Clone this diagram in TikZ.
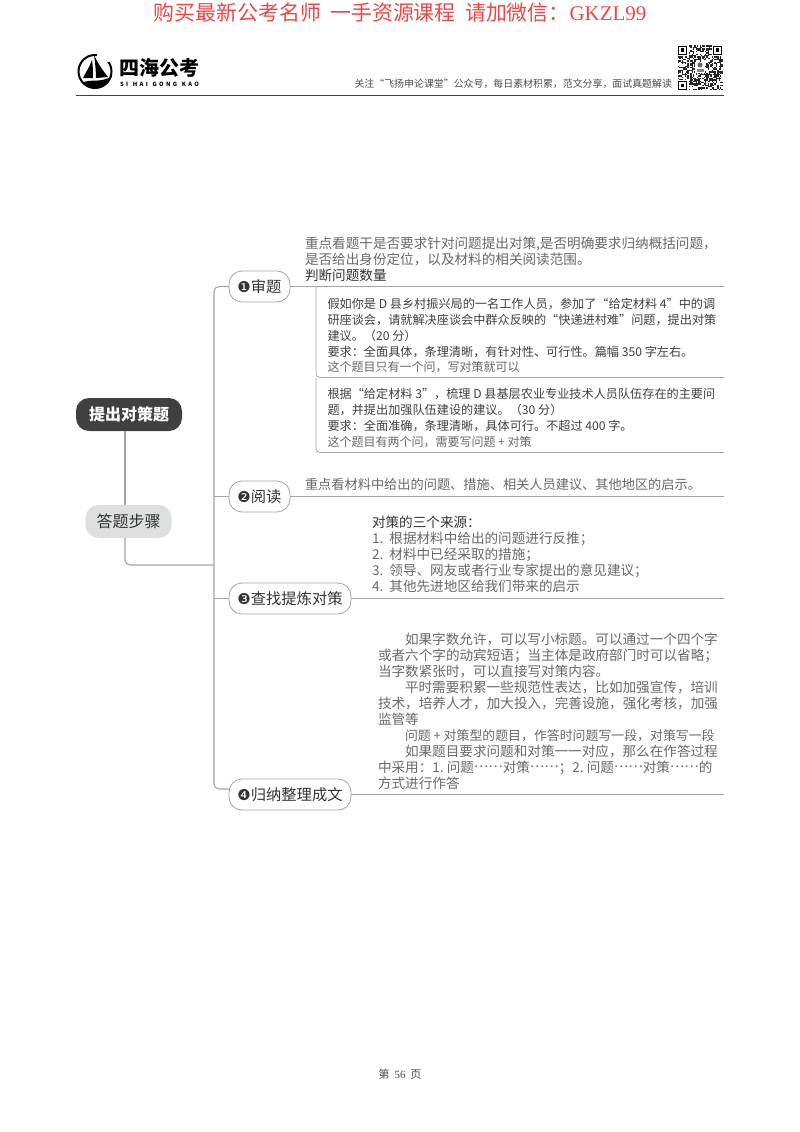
\documentclass[tikz,border=0pt]{standalone}
\usepackage{fontspec}
\setmainfont{Noto Sans CJK SC}
\newfontfamily\symfont{DejaVu Sans}
\newfontfamily\footfont{Liberation Serif}
\usetikzlibrary{positioning}
\definecolor{linegray}{RGB}{165, 165, 165}
\definecolor{rootgray}{RGB}{64, 64, 64}
\definecolor{stepgray}{RGB}{222, 223, 224}
\definecolor{bodygray}{RGB}{105, 105, 105}
\definecolor{headred}{RGB}{240, 70, 70}
\newcommand{\pxfont}[2]{\fontsize{#1}{#2}\selectfont}
\newcommand{\dotsfull}{\raisebox{.3em}{……}}

\begin{document}
\begin{tikzpicture}[
    x=1pt, y=-1pt,
    every node/.style={inner sep=0pt, outer sep=0pt},
    rootbox/.style={rectangle, rounded corners=13pt, fill=rootgray, text=white, font=\pxfont{16}{18}\bfseries,
                    minimum width=106pt, minimum height=33pt},
    stagebox/.style={rectangle, rounded corners=13pt, fill=stepgray, text=black!80, font=\pxfont{16}{18},
                     minimum width=86pt, minimum height=33pt},
    topicbox/.style={rectangle, rounded corners=13pt, draw=linegray, fill=white, text=black!80, font=\pxfont{15.3}{18},
                     minimum height=31pt, thick},
    conn/.style={draw=linegray, line width=1.1pt, rounded corners=5pt},
    underline/.style={draw=linegray, line width=0.8pt, rounded corners=4pt},
    bodytext/.style={anchor=north west, align=left, text=bodygray, font=\pxfont{13.6}{16}},
    asktext/.style={anchor=north west, align=left, text=black!75, font=\pxfont{12.15}{16}},
    handtext/.style={anchor=north west, text=bodygray, font=\pxfont{12}{13}}
]
    \useasboundingbox[fill=white] (0,0) rectangle (800,1132);

    % page head
    \node[text=headred, font=\pxfont{20.9}{24}] (headtext) at (400,13)
        {购买最新公考名师\ \ 一手资源课程\ \ 请加微信^^^^ff1a{\footfont GKZL99}};
    \node[anchor=east, text=black!70, font=\pxfont{9.92}{12}] (follow) at (672,84)
        {关注“飞扬申论课堂”公众号^^^^ff0c每日素材积累^^^^ff0c范文分享^^^^ff0c面试真题解读};
    \coordinate (ruleL) at (76,95.5);
    \coordinate (ruleR) at (724,95.5);
    \draw[black!75, line width=1pt] (ruleL) -- (ruleR);

    % logo
    \draw[black, line width=2pt] (95,71.5) circle (16.5pt);
    \fill[white] (97,50) rectangle (113,62);
    \fill[black] (94,55) .. controls (98,64) and (104,72) .. (108,77) -- (96,78) .. controls (96,70) and (95,62) .. (94,55);
    \fill[black] (92,60) .. controls (90,66) and (86,72) .. (83,78) -- (93,78) .. controls (93,72) and (93,66) .. (92,60);
    \fill[black] (82,83) .. controls (90,78) and (100,84) .. (112,76) .. controls (108,88) and (92,92) .. (82,83);
    \node[anchor=west, text=black, font=\pxfont{20}{22}\bfseries] (logoname) at (119,68) {四海公考};
    \node[anchor=west, text=black, font=\pxfont{5.8}{7}\bfseries] (logolatin) at (120,84)
        {\makebox[79pt][s]{S\hfil I\hfil\hfil H\hfil A\hfil I\hfil\hfil G\hfil O\hfil N\hfil G\hfil\hfil K\hfil A\hfil O}};

    % qr code
    \pgfmathsetseed{56}
    \foreach \i in {0,...,32} {
        \foreach \j in {0,...,32} {
            \pgfmathparse{rnd<0.5 ? 1 : 0}
            \ifnum\pgfmathresult=1
                \fill[black!85] (678+\i*1.35,45.5+\j*1.35) rectangle ++(1.35,1.35);
            \fi
        }
    }
    \foreach \qx/\qy in {678/45.5, 713/45.5, 678/80.5} {
        \fill[white] (\qx-1,\qy-1) rectangle ++(11.5,11.5);
        \draw[black, line width=1.3pt] (\qx+.7,\qy+.7) rectangle ++(8,8);
        \fill[black] (\qx+3,\qy+3) rectangle ++(3.4,3.4);
    }
    \fill[white] (695,62) rectangle (705,73);
    \fill[black!60] (700,65) circle (2.5pt);
    \fill[blue!40!black!50] (696.5,72.5) rectangle (703.5,69);

    % main nodes
    \node[rootbox] (root) at (129,414.5) {提出对策题};
    \node[stagebox] (stage) at (128.5,521.5) {答题步骤};
    \node[topicbox, minimum width=61pt] (t1) at (259.5,286.5) {{\symfont\pxfont{15}{16}❶}审题};
    \node[topicbox, minimum width=61pt] (t2) at (259.5,496.5) {{\symfont\pxfont{15}{16}❷}阅读};
    \node[topicbox, minimum width=122pt] (t3) at (290,598.5) {{\symfont\pxfont{15}{16}❸}查找提炼对策};
    \node[topicbox, minimum width=122pt] (t4) at (290,794.5) {{\symfont\pxfont{15}{16}❹}归纳整理成文};

    % right ends of the rules
    \coordinate (e1) at (724,286.5);
    \coordinate (e2) at (724,496.5);
    \coordinate (e3) at (724,598.5);
    \coordinate (e4) at (724,794.5);
    \coordinate (ask1) at (724,377.5);
    \coordinate (ask2) at (724,452.5);
    \coordinate (stem) at (125,470);
    \coordinate (joint) at (214,565);

    \draw[conn] (stem |- root.south) -- (stem |- stage.north);
    \draw[conn] (stem |- stage.south) |- (joint);
    \draw[conn] (t1.west) -| (joint);
    \draw[conn] (joint) -- (214,789) -- (t4.west |- 0,789);
    \draw[conn] (t2.west) -- (214,496.5);
    \draw[conn] (t3.west) -- (214,598.5);

    \draw[underline] (t1.east) -- (e1);
    \draw[underline] (t2.east) -- (e2);
    \draw[underline] (t3.east) -- (e3);
    \draw[underline] (t4.east) -- (e4);
    \draw[underline] (316,286.5) |- (ask1);
    \draw[underline] (316,377.5) |- (ask2);

    % texts
    \node[bodytext] (read1) at (305,237)
        {重点看题干是否要求针对问题提出对策,是否明确要求归纳概括问题^^^^ff0c\\
         是否给出身份定位^^^^ff0c以及材料的相关阅读范围。\\
         \textcolor{black!80}{判断问题数量}};
    \node[asktext] (ask1text) at (327.5,298)
        {假如你是 D 县乡村振兴局的一名工作人员^^^^ff0c参加了“给定材料 4”中的调\\
         研座谈会^^^^ff0c请就解决座谈会中群众反映的“快递进村难”问题^^^^ff0c提出对策\\
         建议。^^^^ff0820 分^^^^ff09\\
         要求^^^^ff1a全面具体^^^^ff0c条理清晰^^^^ff0c有针对性、可行性。篇幅 350 字左右。};
    \node[handtext] (hand1) at (327.5,361) {这个题目只有一个问^^^^ff0c写对策就可以};
    \node[asktext] (ask2text) at (327.5,388.5)
        {根据“给定材料 3”^^^^ff0c梳理 D 县基层农业专业技术人员队伍存在的主要问\\
         题^^^^ff0c并提出加强队伍建设的建议。^^^^ff0830 分^^^^ff09\\
         要求^^^^ff1a全面准确^^^^ff0c条理清晰^^^^ff0c具体可行。不超过 400 字。};
    \node[handtext] (hand2) at (327.5,436) {这个题目有两个问^^^^ff0c需要写问题 + 对策};
    \node[bodytext, font=\pxfont{13.2}{16}] (read2) at (305,478) {重点看材料中给出的问题、措施、相关人员建议、其他地区的启示。};
    \node[bodytext] (source) at (372,516)
        {\textcolor{black!80}{对策的三个来源^^^^ff1a}\\
         1.\ \ 根据材料中给出的问题进行反推^^^^ff1b\\
         2.\ \ 材料中已经采取的措施^^^^ff1b\\
         3.\ \ 领导、网友或者行业专家提出的意见建议^^^^ff1b\\
         4.\ \ 其他先进地区给我们带来的启示};
    \node[bodytext] (write) at (378,632.5)
        {\hspace*{27pt}如果字数允许^^^^ff0c可以写小标题。可以通过一个四个字\\
         或者六个字的动宾短语^^^^ff1b当主体是政府部门时可以省略^^^^ff1b\\
         当字数紧张时^^^^ff0c可以直接写对策内容。\\
         \hspace*{27pt}平时需要积累一些规范性表达^^^^ff0c比如加强宣传^^^^ff0c培训\\
         技术^^^^ff0c培养人才^^^^ff0c加大投入^^^^ff0c完善设施^^^^ff0c强化考核^^^^ff0c加强\\
         监管等\\
         \hspace*{27pt}{\pxfont{12.9}{16}问题 + 对策型的题目^^^^ff0c作答时问题写一段^^^^ff0c对策写一段}\\
         \hspace*{27pt}如果题目要求问题和对策一一对应^^^^ff0c那么在作答过程\\
         中采用^^^^ff1a1.\ 问题\dotsfull 对策\dotsfull^^^^ff1b2.\ 问题\dotsfull 对策\dotsfull 的\\
         方式进行作答};

    % page foot
    \node[text=black!70, font=\pxfont{11}{12}] (pageno) at (400,1074) {第\ \ {\footfont 56}\ \ 页};
\end{tikzpicture}
\end{document}
